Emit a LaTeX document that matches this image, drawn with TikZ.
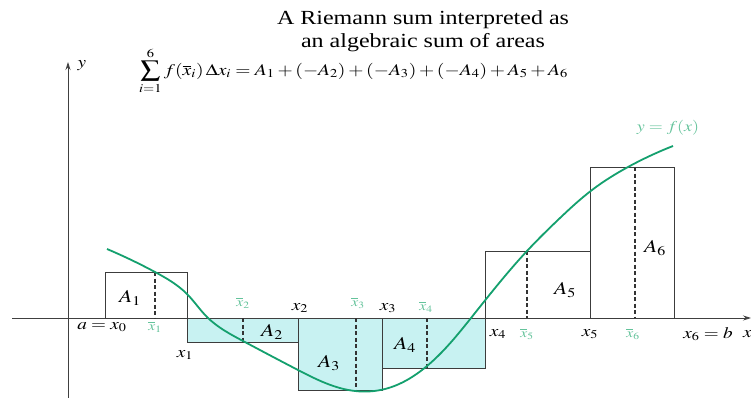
\documentclass[tikz,border=0pt]{standalone}
\usepackage{mathptmx}
\usepackage{fontspec}
\setmainfont{Liberation Serif}
\usetikzlibrary{arrows.meta,hobby}
\definecolor{curvegreen}{RGB}{20,160,110}
\definecolor{lgreen}{RGB}{100,195,155}
\definecolor{cyanfill}{RGB}{200,242,242}
\definecolor{rectc}{RGB}{60,60,60}
\newcommand{\wide}[1]{\scalebox{1.2}[1]{#1}}
\begin{document}
\begin{tikzpicture}[x=1pt,y=-1pt,
  negbox/.style={fill=cyanfill,draw=rectc,line width=0.8pt},
  posbox/.style={draw=rectc,line width=0.8pt},
  sample/.style={line width=1.6pt,dash pattern=on 4pt off 2.5pt,draw=black!80},
  axisline/.style={draw=black!75,line width=0.8pt},
  lab/.style={font=\fontsize{16}{18}\selectfont,inner sep=0pt},
  glab/.style={font=\fontsize{13}{15}\selectfont,inner sep=0pt,text=lgreen},
  area/.style={font=\fontsize{18}{20}\selectfont,inner sep=0pt},
  title/.style={font=\fontsize{20}{23}\selectfont,inner sep=0pt}]
\useasboundingbox (0,0) rectangle (751,398);
\fill[white] (0,0) rectangle (751,398);
% negative rectangles (filled)
\draw[negbox] (187,318) rectangle (298,342);
\draw[negbox] (298,318) rectangle (382,390);
\draw[negbox] (382,318) rectangle (485,368);
% axes
\draw[axisline,-{Stealth[length=8pt,width=5pt]}] (12,318) -- (751,318);
\draw[axisline,-{Stealth[length=8pt,width=5pt]}] (68,398) -- (68,62);
% positive rectangles
\draw[posbox] (105,318) rectangle (187,272);
\draw[posbox] (485,318) rectangle (590,251);
\draw[posbox] (590,318) rectangle (674,167);
% sample lines
\draw[sample] (155,272) -- (155,318);
\draw[sample] (243,318) -- (243,342);
\draw[sample] (356,318) -- (356,390);
\draw[sample] (427,318) -- (427,368);
\draw[sample] (527,251) -- (527,318);
\draw[sample] (635,167) -- (635,318);
% curve
\draw[curvegreen,line width=1.8pt,use Hobby shortcut]
 (107,249) .. (155,272) .. (187,294) .. (207,317) .. (243,341) .. (298,370)
 .. (355,391) .. (385,389) .. (427,366) .. (471,318) .. (527,251)
 .. (560,218) .. (592,190) .. (628,167) .. (673,146);
% titles
\node[title] (t1) at (423,20) {\wide{A Riemann sum interpreted as}};
\node[title] (t2) at (423,43) {\wide{an algebraic sum of areas}};
\node[font=\fontsize{16.3}{18}\selectfont,inner sep=0pt,anchor=west] (sum) at (139,71)
 {\wide{$\displaystyle\sum_{i=1}^{6} f(\overline{x}_i)\,\Delta x_i = A_1 + (-A_2) + (-A_3) + (-A_4) + A_5 + A_6$}};
\node[lab] (ylab) at (82,66) {\wide{$y$}};
\node[glab,font=\fontsize{15}{17}\selectfont] (flab) at (668,128) {\wide{$y = f(x)$}};
% axis labels
\node[lab] (x0) at (102,327) {\wide{$a = x_0$}};
\node[lab] (x1) at (185,355) {\wide{$x_1$}};
\node[lab] (x2) at (300,308) {\wide{$x_2$}};
\node[lab] (x3) at (388,308) {\wide{$x_3$}};
\node[lab] (x4) at (498,334) {\wide{$x_4$}};
\node[lab] (x5) at (590,334) {\wide{$x_5$}};
\node[lab] (x6) at (708,334) {\wide{$x_6 = b$}};
\node[lab,anchor=west] (xlab) at (743,334) {\wide{$x$}};
\node[glab] (s1) at (155,327) {\wide{$\overline{x}_1$}};
\node[glab] (s2) at (243,303) {\wide{$\overline{x}_2$}};
\node[glab] (s3) at (358,303) {\wide{$\overline{x}_3$}};
\node[glab] (s4) at (426,307) {\wide{$\overline{x}_4$}};
\node[glab] (s5) at (527,334) {\wide{$\overline{x}_5$}};
\node[glab] (s6) at (633,334) {\wide{$\overline{x}_6$}};
% area labels
\node[area] (a1) at (130,298) {\wide{$A_1$}};
\node[area] (a2) at (272,332) {\wide{$A_2$}};
\node[area] (a3) at (329,363) {\wide{$A_3$}};
\node[area] (a4) at (405,345) {\wide{$A_4$}};
\node[area] (a5) at (565,290) {\wide{$A_5$}};
\node[area] (a6) at (655,248) {\wide{$A_6$}};
\end{tikzpicture}
\end{document}
